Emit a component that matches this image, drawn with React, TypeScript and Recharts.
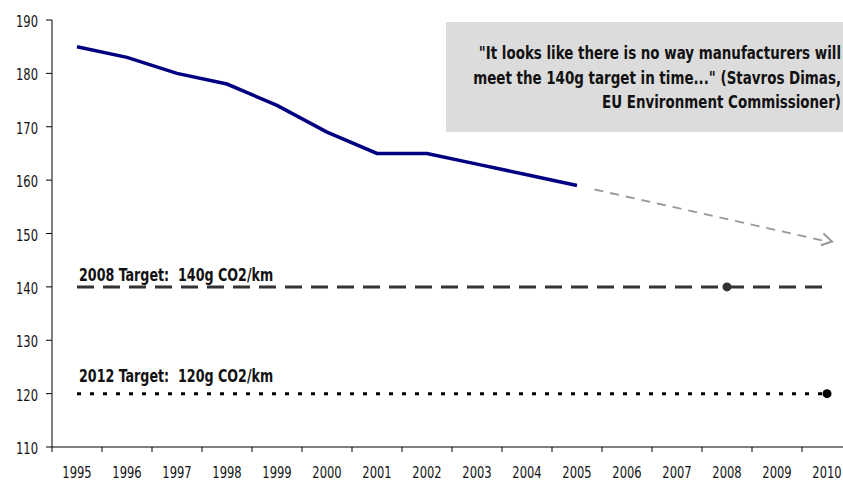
import React from "react";
import { ComposedChart, Line, XAxis, YAxis } from "recharts";

const FONT = "'DejaVu Sans Condensed', 'DejaVu Sans', sans-serif";

const years = ["1995", "1996", "1997", "1998", "1999", "2000", "2001", "2002", "2003", "2004", "2005", "2006", "2007", "2008", "2009", "2010"];
// average new-car emissions, g CO2/km
const emissions = [185, 183, 180, 178, 174, 169, 165, 165, 163, 161, 159, null, null, null, null, null];
// projected trend from the last measured year
const projection = [null, null, null, null, null, null, null, null, null, null, 159, null, null, null, null, 148.5];
const target2008 = 140;
const target2012 = 120;
const yTicks = [110, 120, 130, 140, 150, 160, 170, 180, 190];

const quoteLines = [
  "\"It looks like there is no way manufacturers will",
  "meet the 140g target in time...\" (Stavros Dimas,",
  "EU Environment Commissioner)",
];

const data = years.map((year, i) => ({
  year,
  emissions: emissions[i],
  projection: projection[i],
  t2008: target2008,
  t2012: target2012,
}));

type NarrowProps = {
  x: number;
  y: number;
  anchor?: "start" | "middle" | "end";
  size: number;
  bold?: boolean;
  squeeze?: number;
  children: React.ReactNode;
};

// the condensed face is still too wide, so labels are squeezed horizontally
const NarrowText = ({ x, y, anchor = "start", size, bold, squeeze = 0.83, children }: NarrowProps) => (
  <g transform={`translate(${x}, ${y}) scale(${squeeze}, 1)`}>
    <text
      x={0}
      y={0}
      textAnchor={anchor}
      fontFamily={FONT}
      fontSize={size}
      fontWeight={bold ? "bold" : "normal"}
      fill="#111"
      style={{ whiteSpace: "pre" }}
    >
      {children}
    </text>
  </g>
);

const XTick = (props: any) => {
  const { x, y, payload } = props;
  const half = payload?.offset || 25;
  return (
    <g>
      <line x1={x - half} x2={x - half} y1={y} y2={y + 5} stroke="#000" strokeWidth={1} />
      <NarrowText x={x} y={y + 31} anchor="middle" size={16} squeeze={0.8}>
        {payload.value}
      </NarrowText>
    </g>
  );
};

const YTick = (props: any) => {
  const { x, y, payload } = props;
  return (
    <NarrowText x={x} y={y + 7} anchor="end" size={16} squeeze={0.8}>
      {payload.value}
    </NarrowText>
  );
};

const targetLabel = (text: string, lift: number) => (props: any) => {
  const { x, y, index } = props;
  if (index !== 0) return null;
  return (
    <NarrowText key="lbl" x={x + 2} y={y - lift} size={17} bold>
      {text}
    </NarrowText>
  );
};

const ArrowHead = (props: any) => {
  const { cx, cy, index } = props;
  if (index !== years.length - 1 || cx == null) return <g key={`a-${index}`} />;
  return (
    <g key={`a-${index}`} transform={`translate(${cx + 5}, ${cy}) rotate(12)`}>
      <polyline points="-10,-6 0,0 -10,6" fill="none" stroke="#999" strokeWidth={2} />
    </g>
  );
};

const markerAt = (year: string, color: string) => (props: any) => {
  const { cx, cy, index, payload } = props;
  if (payload?.year !== year) return <g key={`m-${index}`} />;
  return <circle key={`m-${index}`} cx={cx} cy={cy} r={4.5} fill={color} />;
};

// leading gap so the projection starts a little after the measured line ends
const projectionDash = ["0 18", ...Array(20).fill("9 7")].join(" ");

export default function App() {
  return (
    <div style={{ position: "absolute", left: 0, top: 0, width: 843, height: 480, overflow: "hidden", background: "#fff" }}>
      <div
        style={{
          position: "absolute",
          left: 446,
          top: 22,
          width: 420,
          height: 110,
          background: "#dcdcdc",
        }}
      />
      <svg style={{ position: "absolute", left: 0, top: 0 }} width={843} height={480}>
        {quoteLines.map((line, i) => (
          <NarrowText key={i} x={841} y={59 + i * 24.5} anchor="end" size={18} bold>
            {line}
          </NarrowText>
        ))}
      </svg>
      <div style={{ position: "absolute", left: 0, top: 0 }}>
        <ComposedChart width={870} height={480} data={data} margin={{ top: 20, right: 18, bottom: 0, left: 0 }}>
          <XAxis
            dataKey="year"
            scale="band"
            height={33}
            tickSize={0}
            tickMargin={0}
            tickLine={false}
            axisLine={{ stroke: "#000", strokeWidth: 1 }}
            tick={<XTick />}
            interval={0}
          />
          <YAxis
            width={52}
            domain={[110, 190]}
            ticks={yTicks}
            tickSize={6}
            tickMargin={8}
            axisLine={{ stroke: "#000", strokeWidth: 1 }}
            tickLine={{ stroke: "#000", strokeWidth: 1 }}
            tick={<YTick />}
            allowDataOverflow
          />
          <Line
            dataKey="t2008"
            stroke="#333"
            strokeWidth={3}
            strokeDasharray="17 9"
            dot={markerAt("2008", "#333")}
            activeDot={false}
            label={targetLabel("2008 Target:  140g CO2/km", 6)}
            isAnimationActive={false}
          />
          <Line
            dataKey="t2012"
            stroke="#000"
            strokeWidth={3}
            strokeDasharray="4 9"
            dot={markerAt("2010", "#000")}
            activeDot={false}
            label={targetLabel("2012 Target:  120g CO2/km", 12)}
            isAnimationActive={false}
          />
          <Line
            dataKey="projection"
            stroke="#999"
            strokeWidth={2}
            strokeDasharray={projectionDash}
            connectNulls
            dot={<ArrowHead />}
            activeDot={false}
            isAnimationActive={false}
          />
          <Line
            dataKey="emissions"
            stroke="#000080"
            strokeWidth={3.5}
            dot={false}
            activeDot={false}
            isAnimationActive={false}
          />
        </ComposedChart>
      </div>
    </div>
  );
}
